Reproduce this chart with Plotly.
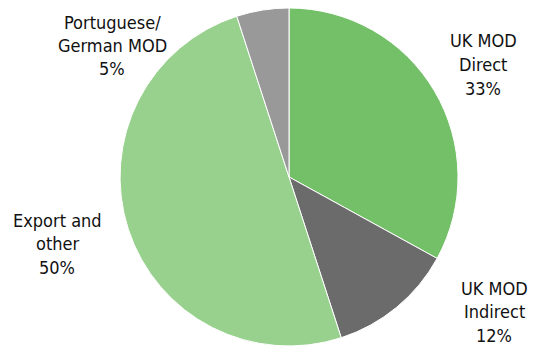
import plotly.graph_objects as go

labels = ["UK MOD Direct", "UK MOD Indirect", "Export and other", "Portuguese/German MOD"]
label_lines = [["UK MOD", "Direct"], ["UK MOD", "Indirect"], ["Export and", "other"], ["Portuguese/", "German MOD"]]
values = [33, 12, 50, 5]
colors = ["#74C069", "#6B6B6B", "#98D18E", "#999999"]

# label centre x and first-line y (paper px)
label_pos = [(483, 41), (494, 288), (57, 220), (112, 22)]
line_gap = 23.5

W, H = 536, 347
cx, cy, r = 289, 177, 169

fig = go.Figure(go.Pie(
    labels=labels, values=values, sort=False, direction="clockwise", rotation=0,
    marker=dict(colors=colors, line=dict(color="white", width=1)),
    textinfo="none", hoverinfo="label+percent",
    domain=dict(x=[(cx - r) / W, (cx + r) / W], y=[(H - (cy + r)) / H, (H - (cy - r)) / H]),
))

font = dict(family="DejaVu Sans Condensed, Liberation Sans Narrow, Liberation Sans, Arial", size=18, color="#111111")
for lines, v, (px, py) in zip(label_lines, values, label_pos):
    for i, t in enumerate(lines + [f"{v}%"]):
        fig.add_annotation(x=px / W, y=1 - (py + i * line_gap) / H, xref="paper", yref="paper",
                           text=t, showarrow=False, font=font,
                           align="center", xanchor="center", yanchor="middle")

fig.update_layout(width=W, height=H, margin=dict(l=0, r=0, t=0, b=0),
                  showlegend=False, paper_bgcolor="white", plot_bgcolor="white")
fig.write_html("out.html")
